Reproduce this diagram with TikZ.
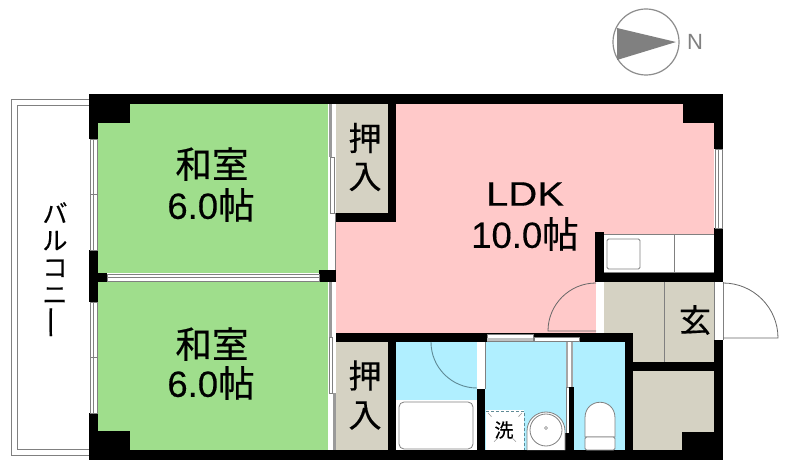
\documentclass[tikz,border=0pt]{standalone}
\usepackage{fontspec}
\setmainfont[FakeBold=0.25]{Liberation Sans}
\newfontfamily\plainsans{Liberation Sans}
\newfontfamily\cjk[FakeBold=0.4]{Noto Sans CJK JP}
\definecolor{wall}{HTML}{000000}
\definecolor{wash}{HTML}{9FDE8C}
\definecolor{ldk}{HTML}{FFC9C9}
\definecolor{aqua}{HTML}{B0EFFF}
\definecolor{store}{HTML}{D5D2C3}
\definecolor{liner}{HTML}{808080}
\definecolor{teal}{HTML}{5F8A96}
\tikzset{
  wallp/.style={fill=wall,draw=none},
  opening/.style={fill=white,draw=liner,line width=0.8pt},
  fixture/.style={fill=white,draw=liner,line width=0.8pt},
  thin line/.style={draw=liner,line width=0.8pt},
  label/.style={inner sep=0pt,align=center,text=black},
}
\begin{document}
\begin{tikzpicture}[x=1pt,y=-1pt]
\useasboundingbox (0,0) rectangle (788,465);
\fill[white] (0,0) rectangle (788,465);
% compass
\draw[liner!90,line width=1.2pt] (646,42) circle (33);
\fill[liner] (617,28) -- (676,42) -- (617,60) -- cycle;
\node[text=liner,inner sep=0pt,font=\fontsize{22}{24}\selectfont\plainsans] (north) at (695,42) {N};
% balcony
\draw[thin line] (89,99) -- (11,99) -- (11,455.5) -- (89,455.5);
\draw[thin line] (89,105) -- (17.5,105) -- (17.5,449) -- (89,449);
% room fills
\fill[wash] (98,104) rectangle (328,273);
\fill[wash] (98,282) rectangle (328,450);
\fill[ldk] (336,104) rectangle (714,333);
\fill[store] (336,104) rectangle (388,213);
\fill[store] (336,342) rectangle (388,450);
\fill[aqua] (396,342) rectangle (625,450);
\fill[store] (604,282) rectangle (714,333);
\fill[store] (633,333) rectangle (714,362);
\fill[store] (633,371) rectangle (714,450);
% walls
\fill[wallp] (89,94) rectangle (723,104);
\fill[wallp] (89,450) rectangle (723,460);
\fill[wallp] (89,94) rectangle (98,139);
\fill[wallp] (89,250) rectangle (98,302);
\fill[wallp] (89,413) rectangle (98,460);
\fill[wallp] (98,104) rectangle (130,123);
\fill[wallp] (98,431) rectangle (130,450);
\fill[wallp] (683,104) rectangle (714,123);
\fill[wallp] (714,94) rectangle (723,149);
\fill[wallp] (714,228) rectangle (723,282);
\fill[wallp] (714,340) rectangle (723,460);
\fill[wallp] (98,273) rectangle (107,282);
\fill[wallp] (319,270) rectangle (336,282);
\fill[wallp] (388,104) rectangle (396,222);
\fill[wallp] (336,213) rectangle (396,222);
\fill[wallp] (595,232) rectangle (604,282);
\fill[wallp] (595,273) rectangle (723,282);
\fill[wallp] (336,333) rectangle (633,342);
\fill[wallp] (625,333) rectangle (633,460);
\fill[wallp] (625,362) rectangle (723,371);
\fill[wallp] (388,342) rectangle (396,450);
\fill[wallp] (477,389) rectangle (485,450);
\fill[wallp] (565,433) rectangle (574,450);
\fill[wallp] (569,387) rectangle (574,433);
\fill[wallp] (682,432) rectangle (714,450);
% windows and sliding doors
\draw[opening] (90,139) rectangle (97,250);
\draw[liner,line width=1pt] (90,194.5) -- (97,194.5);
\draw[liner,line width=0.6pt] (93.5,139) -- (93.5,250);
\draw[opening] (90,302) rectangle (97,413);
\draw[liner,line width=1pt] (90,357.5) -- (97,357.5);
\draw[liner,line width=0.6pt] (93.5,302) -- (93.5,413);
\draw[opening] (107,274) rectangle (319,281);
\draw[liner,line width=0.8pt] (107,277.5) -- (319,277.5);
\draw[opening] (715,149) rectangle (722,228);
\draw[liner,line width=0.8pt] (718.5,149) -- (718.5,228);
% strip between the west rooms and the east side
\fill[white] (328,104) rectangle (336,270);
\fill[white] (328,282) rectangle (336,333);
\fill[white] (328,333) rectangle (336,450);
\fill[liner!80] (329,104) rectangle (332,157);
\draw[liner,line width=0.8pt,fill=white] (330,157) rectangle (334.5,213);
\draw[liner,line width=0.6pt] (335.5,213) -- (335.5,270);
\fill[liner!80] (328.5,282) rectangle (331.5,337);
\draw[liner,line width=0.8pt,fill=white] (329,337) rectangle (332.5,393);
\fill[liner!80] (332.5,393) rectangle (336,450);
% bathroom doors
\draw[opening] (487,334) rectangle (533,341);
\fill[liner!50] (487,338) rectangle (533,341);
\draw[fill=white,draw=liner,line width=0.6pt] (534,337.5) rectangle (579,341);
\fill[white] (477,342) rectangle (485,389);
\draw[liner,line width=0.6pt] (485,342) -- (485,389);
\fill[liner!70] (566,342) rectangle (573,387);
\fill[white] (568,342) rectangle (571,387);
\fill[white] (566,387) rectangle (569,433);
\draw[liner,line width=0.6pt] (566,387) -- (566,433);
\draw[liner,line width=0.6pt] (566,387) -- (569,387);
% door openings
\fill[white] (596,282) rectangle (604,333);
\fill[white] (714,282) rectangle (723,340);
\draw[liner,line width=0.6pt] (714,282) -- (714,340) (723,282) -- (723,340);
% doors
\draw[liner!80!black,line width=0.8pt] (596,283) arc[start angle=-90,end angle=-180,radius=48] -- (596,331);
\draw[liner!80!black,line width=0.8pt] (723,283) arc[start angle=-90,end angle=0,radius=55] -- (723,338);
\draw[teal,line width=0.9pt] (431,342) arc[start angle=180,end angle=90,radius=46];
% kitchen
\fill[white] (604,234) rectangle (714,273);
\draw[thin line] (604,234) -- (714,234) (604,272) -- (714,272) (674,234) -- (674,272);
\draw[fixture,rounded corners=1.5pt] (607,239) rectangle (640,269);
% entrance line
\draw[thin line] (664,282) -- (664,362);
% bath
\fill[white] (396,400) rectangle (477,450);
\draw[fixture,rounded corners=5pt] (399,402) rectangle (473,449);
\fill[white] (486,410) rectangle (524,450);
\draw[teal,line width=0.9pt,dash pattern=on 3pt off 2pt] (486,411) -- (524,411) -- (524,450);
\draw[liner!80,line width=0.6pt,dash pattern=on 5pt off 30pt] (488,413) -- (522,448);
\draw[liner!80,line width=0.6pt,dash pattern=on 5pt off 30pt] (522,413) -- (488,448);
\node[inner sep=0pt,font=\fontsize{19}{20}\selectfont\cjk] (washer) at (504,430) {洗};
% basin
\fill[white] (527,450) -- (527,431) arc[start angle=180,end angle=360,radius=19] -- (565,450) -- cycle;
\draw[liner,line width=0.8pt] (527,450) -- (527,431) arc[start angle=180,end angle=360,radius=19] -- (565,450);
\draw[liner,line width=0.8pt] (546,430) circle (16);
\draw[liner,line width=0.6pt] (546,428) circle (1.5);
% toilet
\draw[fixture] (585,437) -- (585,418) .. controls (585,397) and (615,397) .. (615,418) -- (615,437) -- cycle;
\draw[fixture,rounded corners=1.5pt] (585,437) rectangle (615,450);
% labels
\node[label,font=\fontsize{36.5}{40}\selectfont\cjk] (room1) at (212,164) {和室};
\node[label,font=\fontsize{36.5}{40}\selectfont] (size1) at (211,205) {6.0{\cjk 帖}};
\node[label,font=\fontsize{36.5}{40}\selectfont\cjk] (room2) at (212,344) {和室};
\node[label,font=\fontsize{36.5}{40}\selectfont] (size2) at (211,383) {6.0{\cjk 帖}};
\node[label,font=\fontsize{34}{40}\selectfont,xscale=1.18] (ldkname) at (525,194) {LDK};
\node[label,font=\fontsize{36.5}{40}\selectfont] (ldksize) at (525,234) {10.0{\cjk 帖}};
\node[label,font=\fontsize{33}{38}\selectfont\cjk] (closet1) at (365,157) {押\\入};
\node[label,font=\fontsize{33}{39}\selectfont\cjk] (closet2) at (365,395) {押\\入};
\node[label,font=\fontsize{32}{38}\selectfont\cjk] (entry) at (695,320) {玄};
\node[label,font=\fontsize{25}{27}\selectfont\cjk] (balcony) at (55,271) {バ\\ル\\コ\\ニ\\\rotatebox{90}{\scalebox{1.4}[1]{ー}}};
\end{tikzpicture}
\end{document}
